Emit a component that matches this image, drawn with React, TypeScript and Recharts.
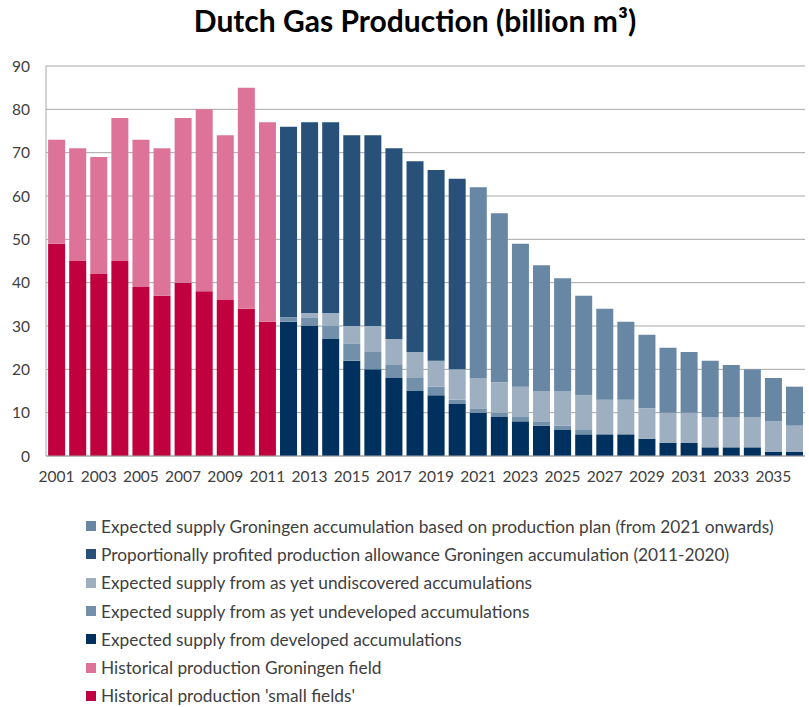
import { BarChart, Bar, XAxis, YAxis, CartesianGrid } from 'recharts';

const years = [
  '2001', '2002', '2003', '2004', '2005', '2006', '2007', '2008', '2009', '2010', '2011', '2012',
  '2013', '2014', '2015', '2016', '2017', '2018', '2019', '2020', '2021', '2022', '2023', '2024',
  '2025', '2026', '2027', '2028', '2029', '2030', '2031', '2032', '2033', '2034', '2035', '2036',
];

// historical 2001-2011
const smallFields = [49, 45, 42, 45, 39, 37, 40, 38, 36, 34, 31];
const groningenField = [24, 26, 27, 33, 34, 34, 38, 42, 38, 51, 46];

// forecasts 2012-2036
const developed = [31, 30, 27, 22, 20, 18, 15, 14, 12, 10, 9, 8, 7, 6, 5, 5, 5, 4, 3, 3, 2, 2, 2, 1, 1];
const undeveloped = [1, 2, 3, 4, 4, 3, 3, 2, 1, 1, 1, 1, 1, 1, 1, 0, 0, 0, 0, 0, 0, 0, 0, 0, 0];
const undiscovered = [0, 1, 3, 4, 6, 6, 6, 6, 7, 7, 7, 7, 7, 8, 8, 8, 8, 7, 7, 7, 7, 7, 7, 7, 6];
// 2012-2020
const proportional = [44, 44, 44, 44, 44, 44, 44, 44, 44];
// 2021-2036
const groningenPlan = [44, 39, 33, 29, 26, 23, 21, 18, 17, 15, 14, 13, 12, 11, 10, 9];

const yTicks = [0, 10, 20, 30, 40, 50, 60, 70, 80, 90];
const xTicks = years.filter((_, i) => i % 2 === 0 && i < 35);

const series = [
  { key: 'small', name: "Historical production 'small fields'", color: '#C0003F' },
  { key: 'groningen', name: 'Historical production Groningen field', color: '#DD7398' },
  { key: 'developed', name: 'Expected supply from developed accumulations', color: '#00305E' },
  { key: 'undeveloped', name: 'Expected supply from as yet undeveloped accumulations', color: '#7390AA' },
  { key: 'undiscovered', name: 'Expected supply from as yet undiscovered accumulations', color: '#9DAFC0' },
  { key: 'proportional', name: 'Proportionally profited production allowance Groningen accumulation (2011-2020)', color: '#275178' },
  { key: 'plan', name: 'Expected supply Groningen accumulation based on production plan (from 2021 onwards)', color: '#6787A4' },
];

const data = years.map((year, i) => ({
  year,
  small: i < 11 ? smallFields[i] : null,
  groningen: i < 11 ? groningenField[i] : null,
  developed: i >= 11 ? developed[i - 11] : null,
  undeveloped: i >= 11 ? undeveloped[i - 11] : null,
  undiscovered: i >= 11 ? undiscovered[i - 11] : null,
  proportional: i >= 11 && i < 20 ? proportional[i - 11] : null,
  plan: i >= 20 ? groningenPlan[i - 20] : null,
}));

const FONT = 'Lato, "Open Sans", sans-serif';

function LegendList() {
  return (
    <div style={{ position: 'absolute', left: 86, top: 512, fontFamily: FONT, fontSize: 17.3, color: '#404040' }}>
      {[...series].reverse().map((s) => (
        <div key={s.key} style={{ display: 'flex', alignItems: 'center', height: 28.3, whiteSpace: 'nowrap' }}>
          <span style={{ width: 10, height: 10, background: s.color, marginRight: 5, display: 'inline-block' }} />
          <span>{s.name}</span>
        </div>
      ))}
    </div>
  );
}

export default function App() {
  return (
    <div style={{ position: 'fixed', left: 0, top: 0, width: 809, height: 707, background: '#fff', overflow: 'hidden' }}>
      <div
        style={{
          position: 'absolute',
          top: 2,
          left: 0,
          width: 830,
          textAlign: 'center',
          fontFamily: FONT,
          fontWeight: 'bold',
          fontSize: 30,
          color: '#000',
        }}
      >
        Dutch Gas Production (billion m³)
      </div>
      <BarChart
        width={809}
        height={707}
        data={data}
        margin={{ top: 66, right: 4, left: 6, bottom: 221 }}
        barCategoryGap="10%"
        style={{ position: 'absolute', left: 0, top: 0 }}
      >
        <CartesianGrid vertical={false} stroke="#A6A6A6" />
        <XAxis
          dataKey="year"
          ticks={xTicks}
          interval={0}
          tickLine={false}
          tickMargin={9}
          stroke="#A6A6A6"
          height={30}
          tick={{ fill: '#404040', fontSize: 15.5, fontFamily: FONT }}
        />
        <YAxis
          width={40}
          domain={[0, 90]}
          ticks={yTicks}
          interval={0}
          tickLine={false}
          tickMargin={10}
          stroke="#A6A6A6"
          tick={{ fill: '#404040', fontSize: 15.5, fontFamily: FONT }}
        />
        {series.map((s) => (
          <Bar key={s.key} dataKey={s.key} name={s.name} stackId="a" fill={s.color} isAnimationActive={false} />
        ))}
      </BarChart>
      <LegendList />
    </div>
  );
}
